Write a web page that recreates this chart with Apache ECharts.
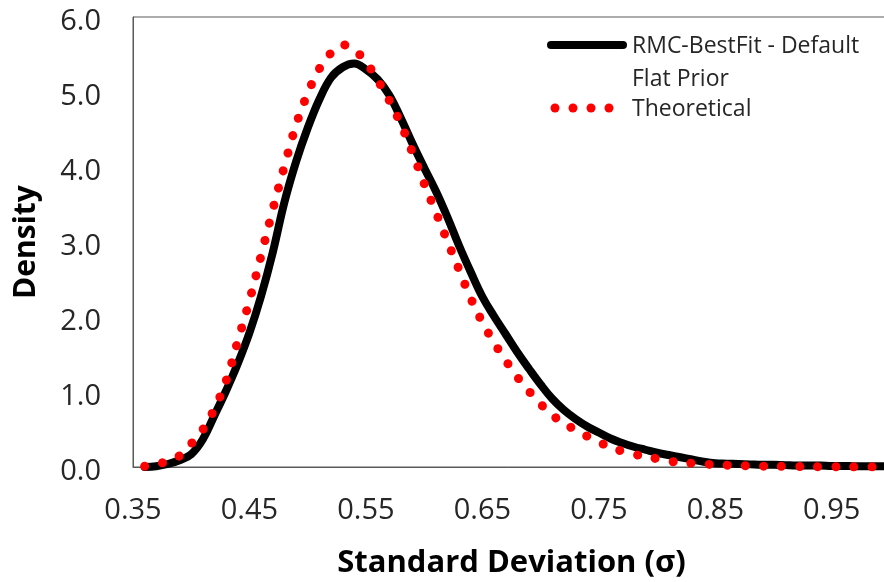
<!DOCTYPE html>
<html>
<head>
<meta charset="utf-8">
<script src="https://cdn.jsdelivr.net/npm/echarts@6/dist/echarts.min.js"></script>
<style>
html,body{margin:0;padding:0;background:#fff;}
#chart{width:884px;height:582px;}
</style>
</head>
<body>
<div id="chart"></div>
<script>
// ---- Data ----
const sigmaValues = [0.36,0.37,0.38,0.39,0.40,0.41,0.42,0.43,0.44,0.45,0.46,0.47,0.48,0.49,0.50,0.51,0.52,0.53,0.54,0.55,0.56,0.57,0.58,0.59,0.60,0.61,0.62,0.63,0.64,0.65,0.66,0.67,0.68,0.69,0.70,0.71,0.72,0.73,0.74,0.75,0.76,0.77,0.78,0.79,0.80,0.81,0.82,0.83,0.84,0.85,0.86,0.87,0.88,0.89,0.90,0.91,0.92,0.93,0.94,0.95,0.96,0.97,0.98,0.99,1.00];
const rmcDensity = [0.00,0.01,0.04,0.09,0.17,0.37,0.69,1.02,1.38,1.79,2.28,2.86,3.53,4.07,4.52,4.90,5.19,5.33,5.38,5.30,5.17,4.96,4.65,4.31,3.99,3.68,3.33,2.95,2.60,2.27,2.01,1.77,1.53,1.31,1.10,0.91,0.76,0.64,0.54,0.46,0.38,0.32,0.27,0.23,0.19,0.16,0.13,0.10,0.07,0.05,0.045,0.04,0.035,0.03,0.03,0.025,0.02,0.02,0.02,0.015,0.015,0.01,0.01,0.01,0.01];
const theoreticalDensity = [0.01,0.035,0.08,0.15,0.31,0.50,0.78,1.15,1.68,2.22,2.82,3.43,4.01,4.56,4.98,5.31,5.52,5.63,5.56,5.40,5.16,4.89,4.57,4.19,3.78,3.40,3.01,2.63,2.25,1.93,1.66,1.42,1.20,1.01,0.84,0.69,0.59,0.49,0.41,0.33,0.27,0.21,0.17,0.14,0.11,0.08,0.06,0.05,0.04,0.03,0.025,0.02,0.015,0.012,0.01,0.008,0.006,0.005,0.004,0.003,0.003,0.002,0.002,0.002,0.001];
const xTickLabels = ['0.35','0.45','0.55','0.65','0.75','0.85','0.95'];
const seriesNames = ['RMC-BestFit - Default Flat Prior','Theoretical'];
const legendLines = [['RMC-BestFit - Default','Flat Prior'],['Theoretical']];

// ---- Chart ----
const FONT = '"Open Sans"';
const TXT = '#262626';
const chart = echarts.init(document.getElementById('chart'), null, {renderer:'canvas'});
const pairs = (ys) => sigmaValues.map((x,i)=>[x, ys[i]]);

chart.setOption({
  animation: false,
  backgroundColor: '#ffffff',
  grid: {left:133, top:17, bottom:115, right:-6, containLabel:false, outerBoundsMode:'none',
         show:true, borderColor:'#595959', borderWidth:1},
  xAxis: {
    type:'value', min:0.35, max:1.0, interval:0.05,
    axisLine:{show:true, lineStyle:{color:'#595959', width:1}},
    axisTick:{show:false}, splitLine:{show:false},
    axisLabel:{
      margin:29, fontFamily:FONT, fontSize:29, color:TXT,
      formatter:(v)=>{ const s=(Math.round(v*100)/100).toFixed(2); return xTickLabels.indexOf(s)>=0 ? s : ''; }
    },
    name:'Standard Deviation (σ)', nameLocation:'middle', nameGap:81,
    nameTextStyle:{fontFamily:FONT, fontSize:31, fontWeight:'bold', color:'#000'}
  },
  yAxis: {
    type:'value', min:0, max:6, interval:1,
    axisLine:{show:true, lineStyle:{color:'#595959', width:1}},
    axisTick:{show:false}, splitLine:{show:false},
    axisLabel:{margin:32, fontFamily:FONT, fontSize:29, color:TXT, verticalAlign:'top', lineHeight:10, formatter:(v)=>v.toFixed(1)},
    name:'Density', nameLocation:'middle', nameGap:92,
    nameTextStyle:{fontFamily:FONT, fontSize:30, fontWeight:'bold', color:'#000'}
  },
  series: [
    {name:seriesNames[0], type:'line', data:pairs(rmcDensity), smooth:0.4, showSymbol:false, symbol:'none', clip:false,
     lineStyle:{color:'#000', width:8, cap:'round', join:'round'}, z:2},
    {name:seriesNames[1], type:'line', data:pairs(theoreticalDensity), smooth:0.4, showSymbol:false, symbol:'none', clip:false,
     lineStyle:{color:'#ff0000', width:9, type:[0.1,18], cap:'round'}, z:3}
  ],
  graphic: [
    {type:'line', shape:{x1:551,y1:45,x2:623,y2:45}, style:{stroke:'#000', lineWidth:8, lineCap:'round'}},
    {type:'text', style:{x:632, y:46, verticalAlign:'middle', text:legendLines[0][0], font:'23px '+FONT, fill:TXT}},
    {type:'text', style:{x:632, y:79, verticalAlign:'middle', text:legendLines[0][1], font:'23px '+FONT, fill:TXT}},
    {type:'circle', shape:{cx:555,cy:108,r:4.5}, style:{fill:'#ff0000'}},
    {type:'circle', shape:{cx:573,cy:108,r:4.5}, style:{fill:'#ff0000'}},
    {type:'circle', shape:{cx:591,cy:108,r:4.5}, style:{fill:'#ff0000'}},
    {type:'circle', shape:{cx:609,cy:108,r:4.5}, style:{fill:'#ff0000'}},
    {type:'text', style:{x:632, y:109, verticalAlign:'middle', text:legendLines[1][0], font:'23px '+FONT, fill:TXT}}
  ]
});
</script>
</body>
</html>
